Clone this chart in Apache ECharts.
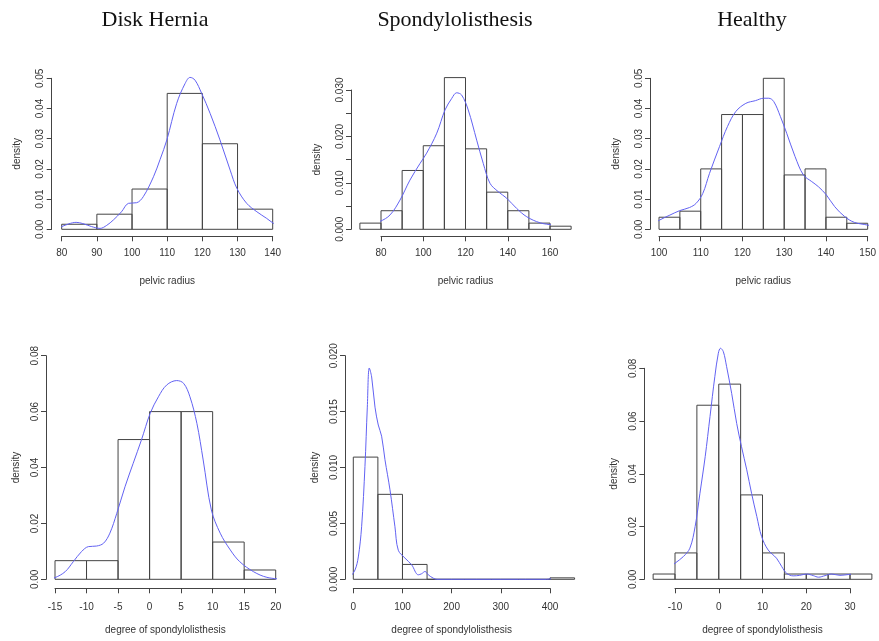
<!DOCTYPE html>
<html>
<head>
<meta charset="utf-8">
<script src="https://cdn.jsdelivr.net/npm/echarts@6/dist/echarts.min.js"></script>
<style>
  html, body { margin: 0; padding: 0; background: #fff; }
  #chart { width: 879px; height: 641px; }
</style>
</head>
<body>
<div id="chart"></div>
<script>
// column titles
var groups = ['Disk Hernia', 'Spondylolisthesis', 'Healthy'];

// ---- pelvic radius ----
var herniaRadiusBreaks = [80, 90, 100, 110, 120, 130, 140];
var herniaRadiusDensity = [0.00167, 0.005, 0.01333, 0.045, 0.02833, 0.00667];
var herniaRadiusKdeX = [77.3, 80, 82, 84.1, 86, 88.5, 90.9, 92.8, 94.7, 97, 99, 101.3, 103.2, 106.1, 108, 109.9, 112.7, 115.1, 116.5, 117.9, 119.8, 122.2, 125, 127.9, 129.8, 132.6, 135.5, 138.3, 140.2, 142.6];
var herniaRadiusKdeY = [0.0001, 0.0009, 0.0018, 0.0023, 0.0019, 0.0009, 0.0003, 0.0013, 0.0031, 0.0058, 0.0086, 0.0088, 0.0108, 0.0174, 0.0232, 0.0296, 0.0417, 0.0483, 0.0503, 0.0494, 0.045, 0.0384, 0.0296, 0.0196, 0.0136, 0.0086, 0.0058, 0.0036, 0.002, 0.0007];

var spondyRadiusBreaks = [70, 80, 90, 100, 110, 120, 130, 140, 150, 160, 170];
var spondyRadiusDensity = [0.00133, 0.004, 0.01267, 0.018, 0.03267, 0.01733, 0.008, 0.004, 0.00133, 0.00067];
var spondyRadiusKdeX = [66.1, 73.2, 79.5, 84.3, 89, 93.7, 98.5, 101.6, 106.4, 110.3, 113.5, 115.8, 118.2, 121.3, 125.3, 128.4, 131.6, 135.5, 139.5, 144.2, 149, 155.3, 161.6, 167.9, 174];
var spondyRadiusKdeY = [0.0004, 0.0009, 0.0017, 0.0031, 0.0063, 0.0106, 0.0142, 0.0164, 0.0207, 0.0257, 0.0282, 0.0294, 0.0289, 0.0257, 0.0192, 0.0142, 0.0099, 0.0081, 0.0067, 0.0045, 0.0027, 0.0014, 0.0009, 0.0004, 0.0];

var healthyRadiusBreaks = [100, 105, 110, 115, 120, 125, 130, 135, 140, 145, 150];
var healthyRadiusDensity = [0.004, 0.006, 0.02, 0.038, 0.038, 0.05, 0.018, 0.02, 0.004, 0.002];
var healthyRadiusKdeX = [97.9, 100.2, 102.6, 105, 107.3, 108.9, 110.5, 112.1, 114.5, 116.4, 118.4, 120.8, 123.1, 125.1, 126.3, 127.5, 129.1, 130.6, 132.6, 134.6, 136.6, 138.2, 140.1, 142.1, 144.5, 146.8, 150, 152];
var healthyRadiusKdeY = [0.0012, 0.0031, 0.0047, 0.0062, 0.0072, 0.0086, 0.0119, 0.0185, 0.0274, 0.034, 0.039, 0.0417, 0.0426, 0.0434, 0.0434, 0.0423, 0.0373, 0.0318, 0.0241, 0.018, 0.0158, 0.0141, 0.0114, 0.0075, 0.0042, 0.0023, 0.0014, 0.0007];

// ---- degree of spondylolisthesis ----
var herniaDegreeBreaks = [-15, -10, -5, 0, 5, 10, 15, 20];
var herniaDegreeDensity = [0.00667, 0.00667, 0.05, 0.06, 0.06, 0.01333, 0.00333];
var herniaDegreeKdeX = [-16.3, -15, -13.4, -12.1, -10.8, -9.7, -8.4, -7.3, -6.3, -5.2, -3.9, -2.6, -1.3, 0.1, 1.4, 2.7, 4.3, 5.4, 6.4, 7.5, 8.5, 9.8, 11.2, 12.8, 14.3, 16.5, 18.6, 21.2];
var herniaDegreeKdeY = [0.0, 0.0006, 0.0027, 0.0063, 0.0099, 0.0117, 0.0119, 0.0129, 0.0165, 0.0236, 0.0331, 0.0415, 0.0498, 0.0594, 0.0653, 0.0695, 0.0711, 0.0701, 0.0653, 0.0558, 0.0427, 0.0248, 0.0165, 0.0105, 0.0063, 0.0027, 0.0007, 0.0];

var spondyDegreeBreaks = [0, 50, 100, 150, 200, 250, 300, 350, 400, 450];
var spondyDegreeDensity = [0.01093, 0.0076, 0.00133, 0, 0, 0, 0, 0, 0.00013];
var spondyDegreeKdeX = [-20, -7, 3.4, 10.2, 16.9, 23.7, 28.5, 32.5, 37.3, 44.1, 50.8, 57.6, 64.4, 74.6, 84.7, 91.5, 105, 118.6, 132.2, 139, 145.8, 152.5, 162.7, 170, 393, 406.8, 417, 427, 437, 447];
var spondyDegreeKdeY = [0.0, 0.00024, 0.00083, 0.002, 0.0047, 0.0101, 0.0154, 0.0189, 0.0181, 0.0154, 0.0138, 0.0128, 0.0107, 0.008, 0.0047, 0.0026, 0.0019, 0.0013, 0.0004, 0.0005, 0.0007, 0.0004, 0.0001, 0.0, 0.0, 0.0001, 0.00024, 0.0001, 0.0, 0.0];

var healthyDegreeBreaks = [-15, -10, -5, 0, 5, 10, 15, 20, 25, 30, 35];
var healthyDegreeDensity = [0.002, 0.01, 0.066, 0.074, 0.032, 0.01, 0.002, 0.002, 0.002, 0.002];
var healthyDegreeKdeX = [-16.5, -14.2, -11.9, -10, -8.1, -6.6, -5.4, -4.3, -3.1, -2, -0.9, -0.1, 0.4, 1.05, 1.8, 2.95, 4.1, 5.2, 6.4, 7.5, 8.7, 9.8, 11.3, 13.2, 14.4, 15.5, 17, 18.5, 20.1, 21.6, 22.8, 24.3, 25.8, 27.7, 29.6, 31.5, 33.8, 36.5];
var healthyDegreeKdeY = [0.0, 0.0008, 0.0035, 0.0061, 0.0086, 0.0118, 0.02, 0.0326, 0.0465, 0.0617, 0.0768, 0.0857, 0.0876, 0.0863, 0.0806, 0.0705, 0.0591, 0.0503, 0.0415, 0.0326, 0.0238, 0.0162, 0.0111, 0.008, 0.0048, 0.0023, 0.0013, 0.0015, 0.002, 0.0014, 0.0008, 0.0014, 0.002, 0.0015, 0.0018, 0.002, 0.001, 0.0];

// axis tick settings per panel
var xTicks = [[80, 140, 10], [80, 160, 20], [100, 150, 10], [-15, 20, 5], [0, 400, 100], [-10, 30, 10]];
var yTicks = [[0, 0.05, 0.01], [0, 0.03, 0.005], [0, 0.05, 0.01], [0, 0.08, 0.02], [0, 0.02, 0.005], [0, 0.08, 0.02]];
var xNames = ['pelvic radius', 'pelvic radius', 'pelvic radius',
  'degree of spondylolisthesis', 'degree of spondylolisthesis', 'degree of spondylolisthesis'];

var hist = [
  [herniaRadiusBreaks, herniaRadiusDensity], [spondyRadiusBreaks, spondyRadiusDensity], [healthyRadiusBreaks, healthyRadiusDensity],
  [herniaDegreeBreaks, herniaDegreeDensity], [spondyDegreeBreaks, spondyDegreeDensity], [healthyDegreeBreaks, healthyDegreeDensity]
];
var kde = [
  [herniaRadiusKdeX, herniaRadiusKdeY], [spondyRadiusKdeX, spondyRadiusKdeY], [healthyRadiusKdeX, healthyRadiusKdeY],
  [herniaDegreeKdeX, herniaDegreeKdeY], [spondyDegreeKdeX, spondyDegreeKdeY], [healthyDegreeKdeX, healthyDegreeKdeY]
];

// layout: plot box spanning the tick range, plus R style axis offsets
var boxes = [
  { left: 61.7, top: 78.3, width: 211, height: 151, xoff: 7, yoff: 10 },
  { left: 381, top: 90, width: 169, height: 139.3, xoff: 7, yoff: 30 },
  { left: 659, top: 78.3, width: 211, height: 151, xoff: 7, yoff: 9 },
  { left: 55, top: 355.7, width: 220.7, height: 223.6, xoff: 9, yoff: 9 },
  { left: 353.3, top: 355.7, width: 196.7, height: 223.6, xoff: 9, yoff: 8.3 },
  { left: 675, top: 368.3, width: 175, height: 211, xoff: 9, yoff: 30.7 }
];
var titleX = [150, 450, 747];

var axisColor = '#444';
var textColor = '#333';
var font = 'Liberation Sans, Arial, sans-serif';

var grids = [], xAxes = [], yAxes = [], series = [];
boxes.forEach(function (b, i) {
  var top = i < 3;
  grids.push({ left: b.left, top: b.top, width: b.width, height: b.height });
  xAxes.push({
    type: 'value', gridIndex: i, position: 'bottom',
    min: xTicks[i][0], max: xTicks[i][1], interval: xTicks[i][2],
    offset: b.xoff,
    name: xNames[i], nameLocation: 'middle', nameGap: top ? 40 : 37,
    nameTextStyle: { fontFamily: font, fontSize: 10, color: textColor },
    axisLine: { show: true, onZero: false, lineStyle: { color: axisColor, width: 1 } },
    axisTick: { show: true, length: 5, lineStyle: { color: axisColor } },
    axisLabel: { fontFamily: font, fontSize: 10, color: textColor, margin: top ? 12 : 14, showMinLabel: true, showMaxLabel: true },
    splitLine: { show: false }
  });
  var yi = yTicks[i];
  var dec = yi[2] < 0.01 ? 3 : 2;
  yAxes.push({
    type: 'value', gridIndex: i, position: 'left',
    min: yi[0], max: yi[1], interval: yi[2],
    offset: b.yoff,
    name: 'density', nameLocation: 'middle', nameRotate: 90, nameGap: top ? 29 : 25,
    nameTextStyle: { fontFamily: font, fontSize: 10, color: textColor },
    axisLine: { show: true, onZero: false, lineStyle: { color: axisColor, width: 1 } },
    axisTick: { show: true, length: 5, lineStyle: { color: axisColor } },
    axisLabel: {
      fontFamily: font, fontSize: 10, color: textColor, rotate: 90, margin: 6,
      showMinLabel: true, showMaxLabel: true,
      formatter: function (v) {
        // panel 2 labels only every 0.010
        if (i === 1 && Math.round(v * 1000) % 10 !== 0) return '';
        return v.toFixed(dec);
      }
    },
    splitLine: { show: false }
  });

  var br = hist[i][0], dens = hist[i][1];
  var rects = dens.map(function (d, k) { return [br[k], br[k + 1], d]; });
  series.push({
    type: 'custom', xAxisIndex: i, yAxisIndex: i, clip: false,
    data: rects,
    encode: { x: [0, 1], y: 2 },
    renderItem: function (params, api) {
      var p0 = api.coord([api.value(0), api.value(2)]);
      var p1 = api.coord([api.value(1), 0]);
      return {
        type: 'rect',
        shape: { x: p0[0], y: p0[1], width: p1[0] - p0[0], height: p1[1] - p0[1] },
        style: { fill: 'none', stroke: axisColor, lineWidth: 1 }
      };
    },
    silent: true, z: 2
  });

  var kx = kde[i][0], ky = kde[i][1];
  series.push({
    type: 'line', xAxisIndex: i, yAxisIndex: i, clip: false,
    data: kx.map(function (x, k) { return [x, ky[k]]; }),
    showSymbol: false, smooth: 0.35,
    lineStyle: { color: '#6262f2', width: 1 },
    silent: true, z: 3
  });
});

var option = {
  backgroundColor: '#fff',
  animation: false,
  title: groups.map(function (g, i) {
    return {
      text: g, left: titleX[i], top: 4, textAlign: 'center',
      textStyle: { fontFamily: 'Liberation Serif, DejaVu Serif, serif', fontWeight: 'normal', fontSize: 22, color: '#111' }
    };
  }),
  grid: grids,
  xAxis: xAxes,
  yAxis: yAxes,
  series: series
};

var chart = echarts.init(document.getElementById('chart'));
chart.setOption(option);
</script>
</body>
</html>
